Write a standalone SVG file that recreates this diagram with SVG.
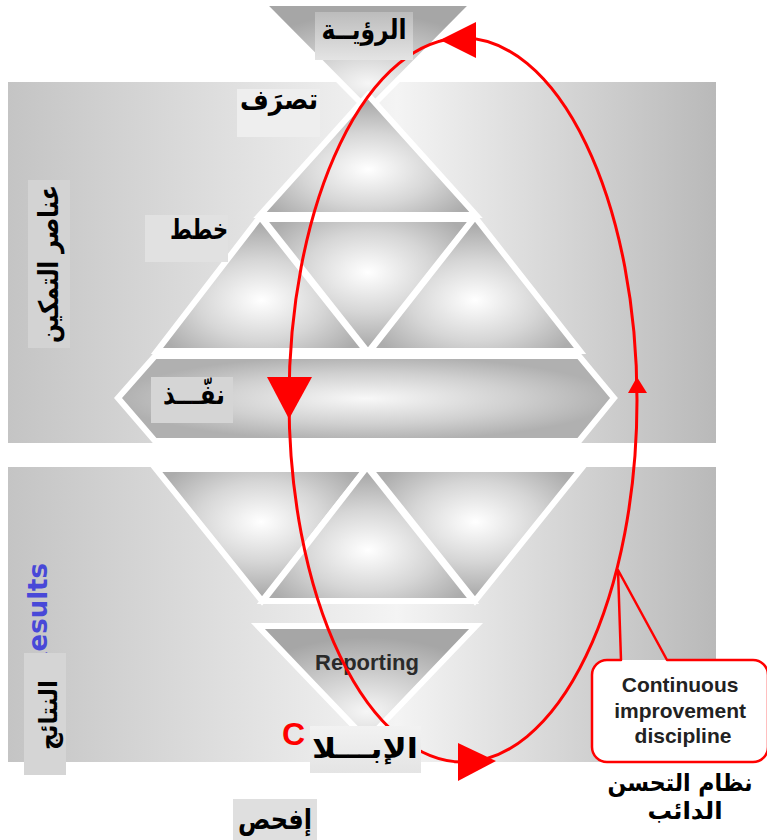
<svg xmlns="http://www.w3.org/2000/svg" width="767" height="840" viewBox="0 0 767 840">
<defs>
  <linearGradient id="panelGrad" x1="0" y1="0" x2="1" y2="0">
    <stop offset="0" stop-color="#c4c4c4"/>
    <stop offset="0.55" stop-color="#f4f4f4"/>
    <stop offset="1" stop-color="#b9b9b9"/>
  </linearGradient>
  <radialGradient id="up" cx="0.5" cy="0.62" r="0.55">
    <stop offset="0" stop-color="#ffffff"/>
    <stop offset="0.55" stop-color="#d6d6d6"/>
    <stop offset="1" stop-color="#acacac"/>
  </radialGradient>
  <radialGradient id="down" cx="0.5" cy="0.4" r="0.55">
    <stop offset="0" stop-color="#ffffff"/>
    <stop offset="0.55" stop-color="#d6d6d6"/>
    <stop offset="1" stop-color="#acacac"/>
  </radialGradient>
  <radialGradient id="hex" cx="0.5" cy="0.5" r="0.5">
    <stop offset="0" stop-color="#f8f8f8"/>
    <stop offset="0.6" stop-color="#d0d0d0"/>
    <stop offset="1" stop-color="#b0b0b0"/>
  </radialGradient>
  <radialGradient id="vision" cx="0.5" cy="0.75" r="0.65">
    <stop offset="0" stop-color="#f6f6f6"/>
    <stop offset="1" stop-color="#a6a6a6"/>
  </radialGradient>
  <linearGradient id="visionBox" x1="0" y1="0" x2="0" y2="1">
    <stop offset="0" stop-color="#bcbcbc"/>
    <stop offset="1" stop-color="#e4e4e4"/>
  </linearGradient>
  <linearGradient id="reportBox" x1="0" y1="0" x2="0" y2="1">
    <stop offset="0" stop-color="#f2f2f2"/>
    <stop offset="1" stop-color="#e4e4e4"/>
  </linearGradient>
</defs>
<style>
  .shape{stroke:#ffffff;stroke-width:6;stroke-linejoin:miter}
  .ar{font-family:"DejaVu Sans",sans-serif;font-weight:bold;fill:#000000}
  .en{font-family:"Liberation Sans",Arial,sans-serif;font-weight:bold}
  .loop{fill:none;stroke:#ff0000;stroke-width:3}
  .head{fill:#ff0000}
</style>
<rect width="767" height="840" fill="#ffffff"/>

<g id="panels">
  <rect x="8" y="82" width="708" height="361" fill="url(#panelGrad)"/>
  <rect x="8" y="467" width="708" height="295" fill="url(#panelGrad)"/>
</g>

<g id="vision-shape">
  <polygon class="shape" points="262,3 474,3 368,110" fill="url(#vision)"/>
</g>
<g id="pyramid">
  <polygon class="shape" points="368,95 260,215 476,215" fill="url(#up)"/>
  <polygon class="shape" points="260,217 157,351 366,351" fill="url(#up)"/>
  <polygon class="shape" points="263,219 473,219 368,352" fill="url(#down)"/>
  <polygon class="shape" points="475,217 370,351 580,351" fill="url(#up)"/>
  <polygon class="shape" points="118,398 155,356 579,356 614,398 579,441 155,441" fill="url(#hex)"/>
</g>
<g id="results-shapes">
  <polygon class="shape" points="156,469 366,469 262,601" fill="url(#down)"/>
  <polygon class="shape" points="367,467 263,601 473,601" fill="url(#up)"/>
  <polygon class="shape" points="370,469 581,469 475,601" fill="url(#down)"/>
</g>
<g id="reporting">
  <polygon class="shape" points="258,626 476,626 367,740" fill="url(#vision)"/>
  <text class="en" x="367" y="670" font-size="22" fill="#2a2a2a" text-anchor="middle">Reporting</text>
</g>

<g id="connectors">
  <ellipse class="loop" cx="463" cy="400" rx="174" ry="362"/>
  <polygon class="head" points="440,40 476,22 476,58"/>
  <polygon class="head" points="267,377 312,377 289,419"/>
  <polygon class="head" points="628,393 647,393 637,377"/>
  <polygon class="head" points="458,743 458,781 496,761"/>
</g>

<g id="callout">
  <rect x="592" y="660" width="176" height="102" rx="15" fill="#ffffff"/>
  <path d="M621,660 H607 A15,15 0 0 0 592,675 V747 A15,15 0 0 0 607,762 H753 A15,15 0 0 0 768,747 V675 A15,15 0 0 0 753,660 H667 L618,570 Z" fill="none" stroke="#ff0000" stroke-width="2.5" stroke-linejoin="round"/>
  <text class="en" font-size="21" fill="#222222" text-anchor="middle">
    <tspan x="683" y="692">Continuous</tspan>
    <tspan x="683" y="718">improvement</tspan>
    <tspan x="683" y="743">discipline</tspan>
  </text>
</g>

<g id="label-vision">
  <rect x="315" y="12" width="98" height="48" fill="url(#visionBox)"/>
  <text class="ar" x="364" y="39" font-size="28" text-anchor="middle" textLength="85" lengthAdjust="spacingAndGlyphs">الرؤيــة</text>
</g>
<g id="label-act">
  <rect x="237" y="89" width="83" height="48" fill="#eeeeee"/>
  <text class="ar" x="279" y="109" font-size="28" text-anchor="middle" textLength="78" lengthAdjust="spacingAndGlyphs">تصرَف</text>
</g>
<g id="label-plan">
  <rect x="145" y="215" width="83" height="47" fill="#e1e1e1"/>
  <text class="ar" x="199" y="239" font-size="28" text-anchor="middle" textLength="58" lengthAdjust="spacingAndGlyphs">خطط</text>
</g>
<g id="label-do">
  <rect x="151" y="377" width="82" height="46" fill="#d5d5d5"/>
  <text class="ar" x="194" y="404" font-size="27" text-anchor="middle" textLength="62" lengthAdjust="spacingAndGlyphs">نفّـــذ</text>
</g>
<g id="label-enablers">
  <rect x="28" y="180" width="42" height="168" fill="#d3d3d3"/>
  <text class="ar" transform="translate(58,264) rotate(-90)" x="0" y="0" font-size="27" text-anchor="middle" textLength="158" lengthAdjust="spacingAndGlyphs">عناصر التمكين</text>
</g>
<g id="label-results">
  <text transform="translate(47,563) rotate(-90)" x="0" y="0" font-family="DejaVu Sans, sans-serif" font-weight="bold" font-size="26" fill="#4848d8" text-anchor="end">Results</text>
  <rect x="24" y="653" width="42" height="122" fill="#d5d5d5"/>
  <text class="ar" transform="translate(57,715) rotate(-90)" x="0" y="0" font-size="25" text-anchor="middle" textLength="70" lengthAdjust="spacingAndGlyphs">النتائج</text>
</g>
<g id="label-report">
  <text class="en" x="282" y="745" font-size="32" fill="#ff0000">C</text>
  <rect x="310" y="726" width="111" height="47" fill="url(#reportBox)"/>
  <text class="ar" x="365" y="758" font-size="28" text-anchor="middle" textLength="106" lengthAdjust="spacingAndGlyphs">الإبـــلا</text>
</g>
<g id="label-check">
  <rect x="233" y="799" width="84" height="41" fill="#dfdfdf"/>
  <text class="ar" x="275" y="829" font-size="28" text-anchor="middle" textLength="74" lengthAdjust="spacingAndGlyphs">إفحص</text>
</g>
<g id="label-system">
  <text class="ar" x="680" y="791" font-size="24" text-anchor="middle" textLength="145" lengthAdjust="spacingAndGlyphs">نظام التحسن</text>
  <text class="ar" x="685" y="819" font-size="24" text-anchor="middle" textLength="75" lengthAdjust="spacingAndGlyphs">الدائب</text>
</g>
</svg>
